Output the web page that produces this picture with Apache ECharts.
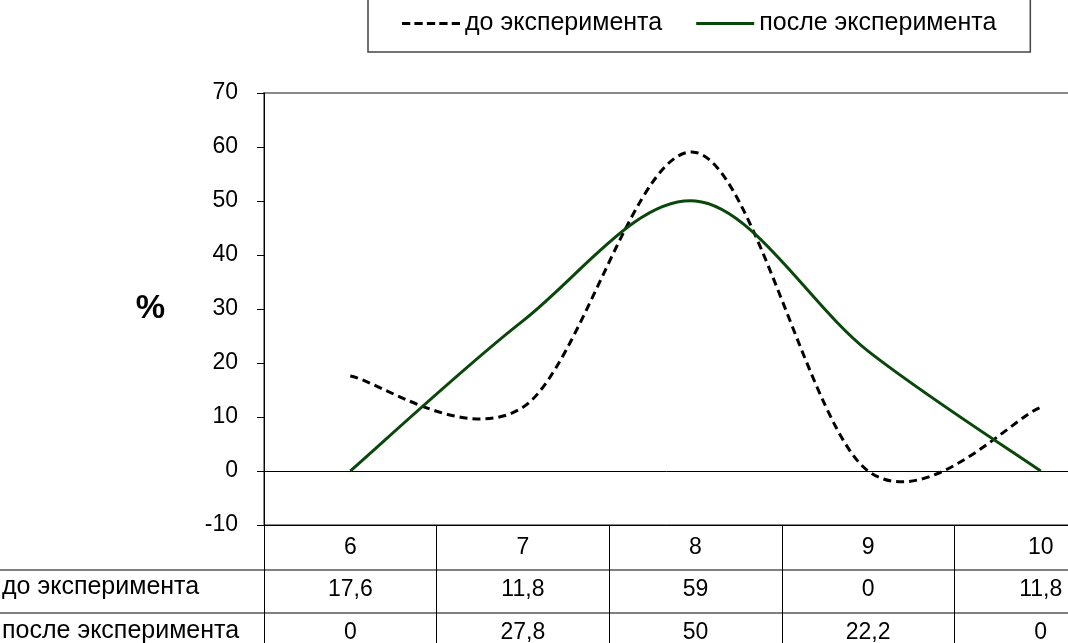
<!DOCTYPE html>
<html>
<head>
<meta charset="utf-8">
<script src="https://cdn.jsdelivr.net/npm/echarts@6/dist/echarts.min.js"></script>
<style>
  html, body { margin: 0; padding: 0; background: #fff; }
  #chart { width: 1068px; height: 643px; }
</style>
</head>
<body>
<div id="chart"></div>
<script>
// данные из таблицы под графиком
const categories = ['6', '7', '8', '9', '10'];
const beforeValues = [17.6, 11.8, 59, 0, 11.8];
const afterValues = [0, 27.8, 50, 22.2, 0];
const seriesNames = ['до эксперимента', 'после эксперимента'];
const yMin = -10, yMax = 70, yStep = 10;

const FONT = '"Liberation Sans", Arial, sans-serif';
const fsNum = 23;     // цифры
const fsText = 25;    // подписи кириллицей
const gridTop = 93, gridLeft = 264, gridH = 432, colW = 172.6;
const tableTop = gridTop + gridH;
const row1 = 45, row2 = 88;   // смещения строк таблицы от оси

function fmt(v) {
  return String(v).replace('.', ',');
}

// сглаженная кривая как в Excel (Безье с касательной (P[i+1]-P[i-1])/6)
function smoothCurve(values, color, dash) {
  return function (params, api) {
    if (params.dataIndex !== 0) return null;
    var pts = values.map(function (v, i) { return api.coord([i, v]); });
    var n = pts.length;
    var d = 'M' + pts[0][0] + ' ' + pts[0][1];
    for (var i = 0; i < n - 1; i++) {
      var p0 = pts[Math.max(i - 1, 0)], p1 = pts[i], p2 = pts[i + 1], p3 = pts[Math.min(i + 2, n - 1)];
      var c1x = p1[0] + (p2[0] - p0[0]) / 6, c1y = p1[1] + (p2[1] - p0[1]) / 6;
      var c2x = p2[0] - (p3[0] - p1[0]) / 6, c2y = p2[1] - (p3[1] - p1[1]) / 6;
      d += ' C' + c1x + ' ' + c1y + ' ' + c2x + ' ' + c2y + ' ' + p2[0] + ' ' + p2[1];
    }
    return {
      type: 'path',
      shape: { pathData: d },
      style: { stroke: color, lineWidth: 3, lineDash: dash, fill: 'none' }
    };
  };
}

var chart = echarts.init(document.getElementById('chart'));
var option = {
  animation: false,
  textStyle: { fontFamily: FONT, color: '#000' },
  grid: {
    left: gridLeft,
    top: gridTop,
    width: colW * categories.length,
    height: gridH,
    show: true,
    borderColor: '#8a8a8a',
    borderWidth: 2,
    outerBoundsMode: 'none'
  },
  legend: {
    left: 368,
    top: -9,
    padding: [20, 34, 16, 34],
    itemGap: 34,
    itemWidth: 58,
    itemHeight: 20,
    borderColor: '#444',
    borderWidth: 1.5,
    textStyle: { fontFamily: FONT, fontSize: fsText, color: '#000' },
    data: [
      { name: seriesNames[0], icon: 'path://M0,0h8v3h-8zM12,0h8v3h-8zM24,0h8v3h-8zM36,0h8v3h-8zM48,0h8v3h-8z' },
      { name: seriesNames[1], icon: 'path://M0,0h56v3h-56z' }
    ]
  },
  xAxis: [
    {
      // линия нуля
      type: 'category',
      data: categories,
      axisLine: { onZero: true, lineStyle: { color: '#000', width: 1 } },
      axisTick: { show: false },
      axisLabel: { show: false }
    },
    {
      // шапка таблицы: категории
      type: 'category',
      position: 'bottom',
      data: categories,
      axisLine: { onZero: false, lineStyle: { color: '#000', width: 1 } },
      axisTick: { show: true, interval: 0, length: 140, lineStyle: { color: '#000', width: 1 } },
      axisLabel: { margin: 23, verticalAlign: 'middle', fontSize: fsNum, color: '#000', fontFamily: FONT, interval: 0 }
    },
    {
      type: 'category',
      position: 'bottom',
      offset: row1,
      data: categories,
      axisLine: { show: false },
      axisTick: { show: false },
      axisLabel: {
        margin: 20, verticalAlign: 'middle', fontSize: fsNum, color: '#000', fontFamily: FONT, interval: 0,
        formatter: function (v, i) { return fmt(beforeValues[i]); }
      }
    },
    {
      type: 'category',
      position: 'bottom',
      offset: row2,
      data: categories,
      axisLine: { show: false },
      axisTick: { show: false },
      axisLabel: {
        margin: 20, verticalAlign: 'middle', fontSize: fsNum, color: '#000', fontFamily: FONT, interval: 0,
        formatter: function (v, i) { return fmt(afterValues[i]); }
      }
    }
  ],
  yAxis: {
    type: 'value',
    min: yMin,
    max: yMax,
    interval: yStep,
    name: '%',
    nameLocation: 'middle',
    nameRotate: 0,
    nameGap: 99,
    nameTextStyle: { fontSize: 33, fontWeight: 'bold', color: '#000', fontFamily: FONT },
    axisLine: { show: true, lineStyle: { color: '#000', width: 1 } },
    axisTick: { show: true, length: 7, lineStyle: { color: '#000' } },
    axisLabel: { margin: 26, fontSize: fsNum, color: '#000', fontFamily: FONT },
    splitLine: { show: false }
  },
  graphic: [
    // строки таблицы
    { type: 'line', shape: { x1: 0, y1: tableTop + row1, x2: 1068, y2: tableTop + row1 }, style: { stroke: '#000', lineWidth: 1 } },
    { type: 'line', shape: { x1: 0, y1: tableTop + row2, x2: 1068, y2: tableTop + row2 }, style: { stroke: '#000', lineWidth: 1 } },
    { type: 'text', left: 2, top: tableTop + row1 + 17 - fsText / 2, style: { text: seriesNames[0], font: fsText + 'px ' + FONT, fill: '#000' } },
    { type: 'text', left: 2, top: tableTop + row2 + 18 - fsText / 2, style: { text: seriesNames[1], font: fsText + 'px ' + FONT, fill: '#000' } }
  ],
  series: [
    {
      name: seriesNames[0],
      type: 'custom',
      data: beforeValues.map(function (v, i) { return [i, v]; }),
      itemStyle: { color: '#000' },
      renderItem: smoothCurve(beforeValues, '#000', [8, 5])
    },
    {
      name: seriesNames[1],
      type: 'custom',
      data: afterValues.map(function (v, i) { return [i, v]; }),
      itemStyle: { color: '#0a470a' },
      renderItem: smoothCurve(afterValues, '#0a470a', null)
    }
  ]
};
chart.setOption(option);
</script>
</body>
</html>
